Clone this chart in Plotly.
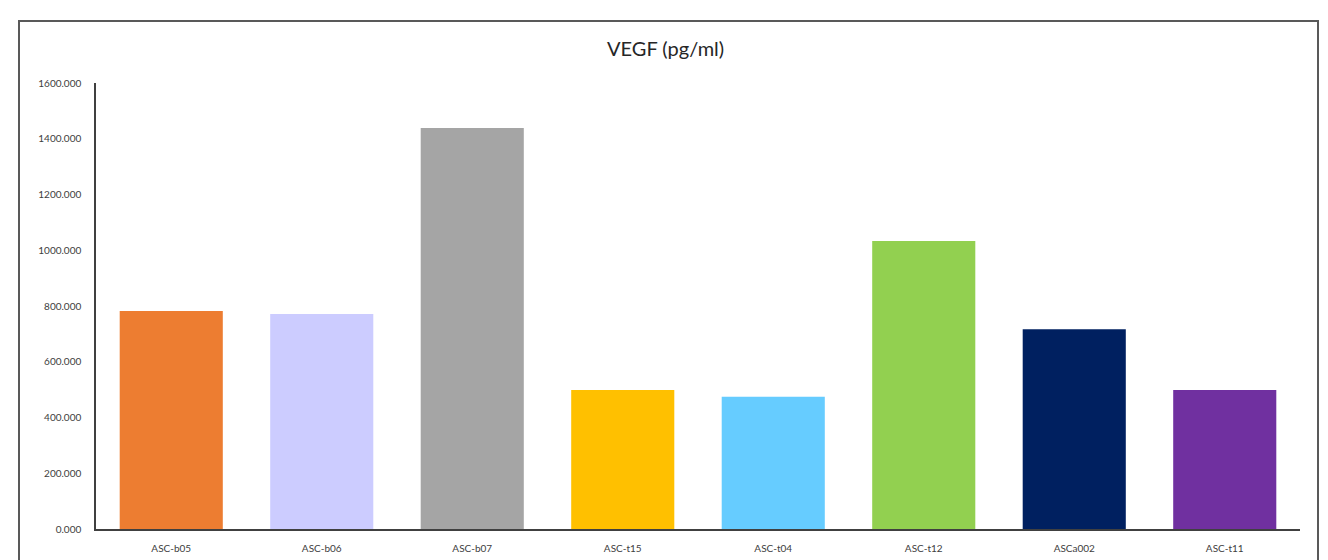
import plotly.graph_objects as go

categories = ["ASC-b05", "ASC-b06", "ASC-b07", "ASC-t15", "ASC-t04", "ASC-t12", "ASCa002", "ASC-t11"]
values = [782, 771, 1439, 499, 474, 1033, 717, 499]
colors = ["#ED7D31", "#CCCCFF", "#A5A5A5", "#FFC000", "#66CCFF", "#92D050", "#002060", "#7030A0"]
tick_vals = [0, 200, 400, 600, 800, 1000, 1200, 1400, 1600]
tick_text = [f"{v:.3f}" for v in tick_vals]

OFF = 8  # page body margin
W, H = 1328 - OFF, 560 - OFF
L, T = 96 - OFF, 83 - OFF
R = W - (1300 - OFF)
B = H - (529 - OFF)
pw, ph = W - L - R, H - T - B

fig = go.Figure(go.Bar(x=categories, y=values, marker=dict(color=colors, line=dict(width=0))))

def px(x):
    return (x - OFF - L) / pw

def py(y):
    return (H - B - (y - OFF)) / ph

fig.update_layout(
    width=W, height=H,
    margin=dict(l=L, r=R, t=T, b=B),
    paper_bgcolor="white", plot_bgcolor="white",
    bargap=0.315,
    showlegend=False,
    font=dict(family="Lato, sans-serif", color="#404040", size=10),
    xaxis=dict(showline=True, linecolor="#404040", linewidth=1.5, ticks="", showgrid=False,
               automargin=False, ticklabelstandoff=9, tickfont=dict(size=10, color="#404040")),
    yaxis=dict(range=[0, 1600], tickvals=tick_vals, ticktext=tick_text, showline=True,
               linecolor="#404040", linewidth=1.5, showgrid=False, zeroline=False, ticks="",
               automargin=False, ticklabelstandoff=11, tickfont=dict(size=10, color="#404040")),
    annotations=[dict(text="VEGF (pg/ml)", x=px(665), y=py(48), xref="paper", yref="paper",
                      xanchor="center", yanchor="middle",
                      showarrow=False, font=dict(family="Lato, Open Sans, sans-serif", size=20, color="#262626"))],
    shapes=[dict(type="rect", xref="paper", yref="paper", x0=px(19), x1=px(1318), y0=py(580), y1=py(21),
                 line=dict(color="#595959", width=2), fillcolor="rgba(0,0,0,0)", layer="below")],
)

fig.write_html("out.html")
